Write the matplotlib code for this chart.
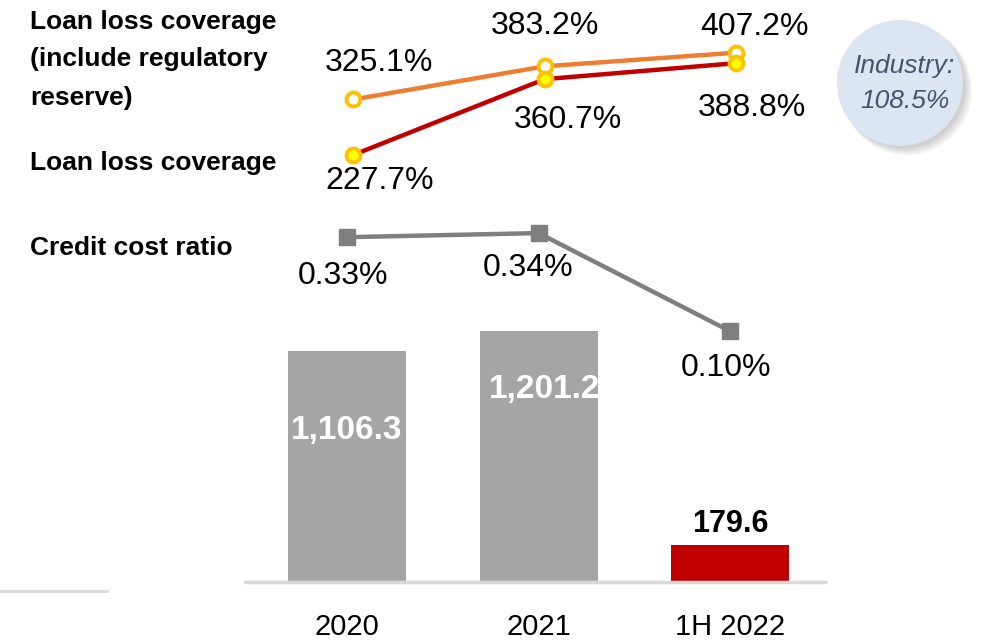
import matplotlib.pyplot as plt
from matplotlib.patches import Circle

periods = ['2020', '2021', '1H 2022']
provisions = [1106.3, 1201.2, 179.6]
bar_labels = ['1,106.3', '1,201.2', '179.6']
credit_cost = [0.33, 0.34, 0.10]
coverage = [227.7, 360.7, 388.8]
coverage_reg = [325.1, 383.2, 407.2]

W, H = 984, 641
fig = plt.figure(figsize=(W / 100, H / 100), dpi=100)
plt.rcParams['font.family'] = ['Liberation Sans', 'DejaVu Sans']


def px_axes(left, top, right, bottom):
    ax = fig.add_axes([left / W, 1 - bottom / H, (right - left) / W, (bottom - top) / H])
    ax.patch.set_alpha(0)
    for s in ax.spines.values():
        s.set_visible(False)
    ax.set_xticks([])
    ax.set_yticks([])
    return ax


x = [0, 1, 2]
xlim = (-0.533, 2.496)

# bars
ax_bar = px_axes(245, 300, 825, 582)
ax_bar.set_xlim(*xlim)
ax_bar.set_ylim(0, 1352)
bars = ax_bar.bar(x, provisions, width=0.616, color=['#A5A5A5', '#A5A5A5', '#C00000'])
ax_bar.axhline(0, color='#D9D9D9', lw=2.5, clip_on=False)
for i, (b, lab) in enumerate(zip(bars, bar_labels)):
    if i < 2:
        off = [-79, -58][i]
        t = ax_bar.annotate(lab, (x[i], provisions[i]), xytext=(6 * i, off), textcoords='offset pixels',
                            ha='center', va='center', color='white', fontsize=24, fontweight='bold')
        t.set_clip_path(b)
    else:
        ax_bar.annotate(lab, (x[i], provisions[i]), xytext=(0, 21), textcoords='offset pixels',
                        ha='center', va='center', color='black', fontsize=22, fontweight='bold')
for i, p in enumerate(periods):
    ax_bar.annotate(p, (x[i], 0), xytext=(0, -45), textcoords='offset pixels',
                    ha='center', va='center', fontsize=21)

# credit cost ratio
ax_cc = px_axes(245, 200, 825, 372)
ax_cc.set_xlim(*xlim)
ax_cc.set_ylim(0, 0.421)
ax_cc.plot(x, credit_cost, color='#7F7F7F', lw=3.2, marker='s', ms=11)
cc_off = [(-4, -39), (-10, -35), (-4, -37)]
for i, v in enumerate(credit_cost):
    ax_cc.annotate(f'{v:.2f}%', (x[i], v), xytext=cc_off[i], textcoords='offset pixels',
                   ha='center', va='center', fontsize=23)

# loan loss coverage lines
ax_cov = px_axes(251, 20, 831, 200)
ax_cov.set_xlim(*xlim)
ax_cov.set_ylim(148.8, 464.5)
ax_cov.plot(x, coverage_reg, color='#ED7D31', lw=3.2, marker='o', ms=10,
            mfc='white', mec='#FFC000', mew=2.8, zorder=3)
ax_cov.plot(x, coverage, color='#C00000', lw=3.2, marker='o', ms=10,
            mfc='#FFFF00', mec='#FFC000', mew=2.8, zorder=4)
reg_off = [(26, 36), (0, 40), (18, 26)]
cov_off = [(27, -26), (23, -41), (16, -45)]
for i in range(3):
    ax_cov.annotate(f'{coverage_reg[i]:.1f}%', (x[i], coverage_reg[i]), xytext=reg_off[i],
                    textcoords='offset pixels', ha='center', va='center', fontsize=23)
    ax_cov.annotate(f'{coverage[i]:.1f}%', (x[i], coverage[i]), xytext=cov_off[i],
                    textcoords='offset pixels', ha='center', va='center', fontsize=23)

# series names on the left
def left_text(y, s):
    fig.text(30 / W, 1 - y / H, s, ha='left', va='center', fontsize=19, fontweight='bold')

left_text(22, 'Loan loss coverage')
left_text(59, '(include regulatory')
left_text(98, 'reserve)')
left_text(163, 'Loan loss coverage')
left_text(248, 'Credit cost ratio')

# short rule bottom left
fig.add_artist(plt.Line2D([0, 107 / W], [1 - 591 / H] * 2, color='#D9D9D9', lw=2))

# industry bubble with a soft shadow
ax_ind = fig.add_axes([0, 0, 1, 1])
ax_ind.set_xlim(0, W)
ax_ind.set_ylim(H, 0)
ax_ind.axis('off')
for k in range(6):
    ax_ind.add_patch(Circle((903 + k * 0.8, 86 + k * 0.8), 62 + k * 0.6,
                            facecolor='#808080', alpha=0.07, lw=0))
ax_ind.add_patch(Circle((900, 83), 63, facecolor='#DCE6F2', edgecolor='none'))
ax_ind.text(905, 66, 'Industry:', ha='center', va='center', fontsize=19, style='italic', color='#44546A')
ax_ind.text(905, 101, '108.5%', ha='center', va='center', fontsize=19, style='italic', color='#44546A')

fig.savefig('out.png', dpi=100)
